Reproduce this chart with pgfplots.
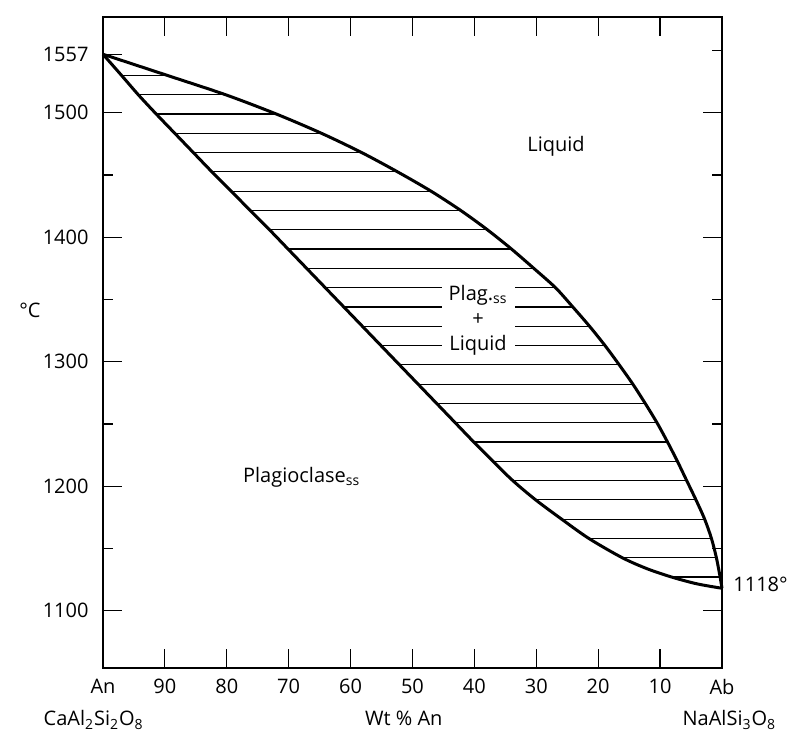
\documentclass[border=0pt]{standalone}
\usepackage{fontspec}
\setmainfont{Open Sans}
\usepackage{pgfplots}
\usepackage{pgfplotstable}
\pgfplotsset{compat=1.18}

% liquidus, An wt% vs T (C), read off the drawing's scale
\pgfplotstableread{
an T
100 1547
89.6 1530
80.2 1514.5
72.0 1499
64.7 1483.5
58.2 1468
52.4 1452.5
47.0 1437
42.2 1421.5
37.9 1406
34.0 1390.5
30.4 1375
26.9 1359.5
24.1 1344
21.4 1328.5
18.9 1313
16.6 1297.5
14.4 1282
12.4 1266.5
10.5 1251
8.8 1235.5
7.2 1220
5.7 1204.5
4.2 1189
2.8 1173.5
1.7 1158
0.9 1142.5
0.3 1127
0 1118
}\liquidus

% solidus
\pgfplotstableread{
an T
100 1547
97.0 1530
94.3 1514.5
91.4 1499
88.4 1483.5
85.4 1468
82.4 1452.5
79.3 1437
76.2 1421.5
73.1 1406
70.1 1390.5
67.1 1375
64.1 1359.5
61.1 1344
58.1 1328.5
55.1 1313
52.1 1297.5
49.1 1282
46.1 1266.5
43.1 1251
40.1 1235.5
37.0 1220
33.8 1204.5
30.1 1189
25.9 1173.5
21.5 1158
16.1 1142.5
12.0 1133.5
8.0 1126.8
4.0 1121.5
0 1118
}\solidus

% tie lines (solidus end, liquidus end)
\pgfplotstableread{
an T
97.0 1530
89.6 1530
nan nan
94.3 1514.5
80.2 1514.5
nan nan
91.4 1499
72.0 1499
nan nan
88.4 1483.5
64.7 1483.5
nan nan
85.4 1468
58.2 1468
nan nan
82.4 1452.5
52.4 1452.5
nan nan
79.3 1437
47.0 1437
nan nan
76.2 1421.5
42.2 1421.5
nan nan
73.1 1406
37.9 1406
nan nan
70.1 1390.5
34.0 1390.5
nan nan
67.1 1375
30.4 1375
nan nan
64.1 1359.5
26.9 1359.5
nan nan
61.1 1344
24.1 1344
nan nan
58.1 1328.5
21.4 1328.5
nan nan
55.1 1313
18.9 1313
nan nan
52.1 1297.5
16.6 1297.5
nan nan
49.1 1282
14.4 1282
nan nan
46.1 1266.5
12.4 1266.5
nan nan
43.1 1251
10.5 1251
nan nan
40.1 1235.5
8.8 1235.5
nan nan
37.0 1220
7.2 1220
nan nan
33.8 1204.5
5.7 1204.5
nan nan
30.1 1189
4.2 1189
nan nan
25.9 1173.5
2.8 1173.5
nan nan
21.5 1158
1.7 1158
nan nan
16.1 1142.5
0.9 1142.5
nan nan
8.1 1127
0.3 1127
}\tielines

\pgfplotsset{
  phasebox/.style={
    scale only axis,
    width=309.5pt, height=325.5pt,
    x dir=reverse,
    xmin=0, xmax=100,
    ymin=1054, ymax=1577,
    tick align=inside,
    major tick length=9.5pt,
    minor tick length=5pt,
    every tick/.style={black, line width=0.6pt},
    axis line style={line width=1pt},
    tick label style={font=\fontsize{10}{12}\selectfont},
    clip=false,
  },
}

\begin{document}
\begin{tikzpicture}[font=\fontsize{10}{12}\selectfont]
\begin{axis}[
  phasebox,
  xtick={0,10,...,100},
  xticklabels={Ab,10,20,30,40,50,60,70,80,90,An},
  ytick={1100,1200,1300,1400,1500,1547},
  yticklabels={1100,1200,1300,1400,1500,1557},
  minor ytick={1150,1250,1350,1450},
  ytick pos=left,
  xticklabel style={yshift=-2pt},
  yticklabel style={xshift=-3.7pt},
]
\addplot[black, line width=0.6pt, unbounded coords=jump] table[x=an, y=T] {\tielines};

\node[fill=white, inner xsep=3.5pt, inner ysep=1pt, align=center,
      font=\fontsize{10}{12.5}\selectfont] at (axis cs:39.4,1333)
  {Plag.\textsubscript{ss}\\+\\Liquid};

\addplot[black, line width=1.5pt, line join=round, smooth, tension=0.5] table[x=an, y=T] {\liquidus};
\addplot[black, line width=1.5pt, line join=round, smooth, tension=0.5] table[x=an, y=T] {\solidus};

\node at (axis cs:26.8,1473) {Liquid};
\node at (axis cs:67.9,1207) {Plagioclase\textsubscript{ss}};
\node[anchor=west, inner sep=0pt, xshift=5.5pt] at (axis cs:0,1121) {1118°};
\node at (axis description cs:-0.118,0.55) {°C};
\node[anchor=base, yshift=-29pt] at (axis description cs:-0.015,0)
  {CaAl\textsubscript{2}Si\textsubscript{2}O\textsubscript{8}};
\node[anchor=base, yshift=-29pt] at (axis description cs:0.486,0) {Wt \% An};
\node[anchor=base, yshift=-29pt] at (axis description cs:1.012,0)
  {NaAlSi\textsubscript{3}O\textsubscript{8}};

\coordinate (bbBL) at (axis description cs:-0.1664,-0.1045);
\coordinate (bbTR) at (axis description cs:1.1325,1.026);
\end{axis}

% right-hand ticks (every 50 C, no labels)
\begin{axis}[
  phasebox,
  xtick=\empty,
  ytick={1100,1200,1300,1400,1500},
  yticklabels={},
  minor ytick={1150,1250,1350,1450,1550},
  ytick pos=right,
]
\end{axis}

\pgfresetboundingbox
\path[use as bounding box] (bbBL) rectangle (bbTR);
\end{tikzpicture}
\end{document}
